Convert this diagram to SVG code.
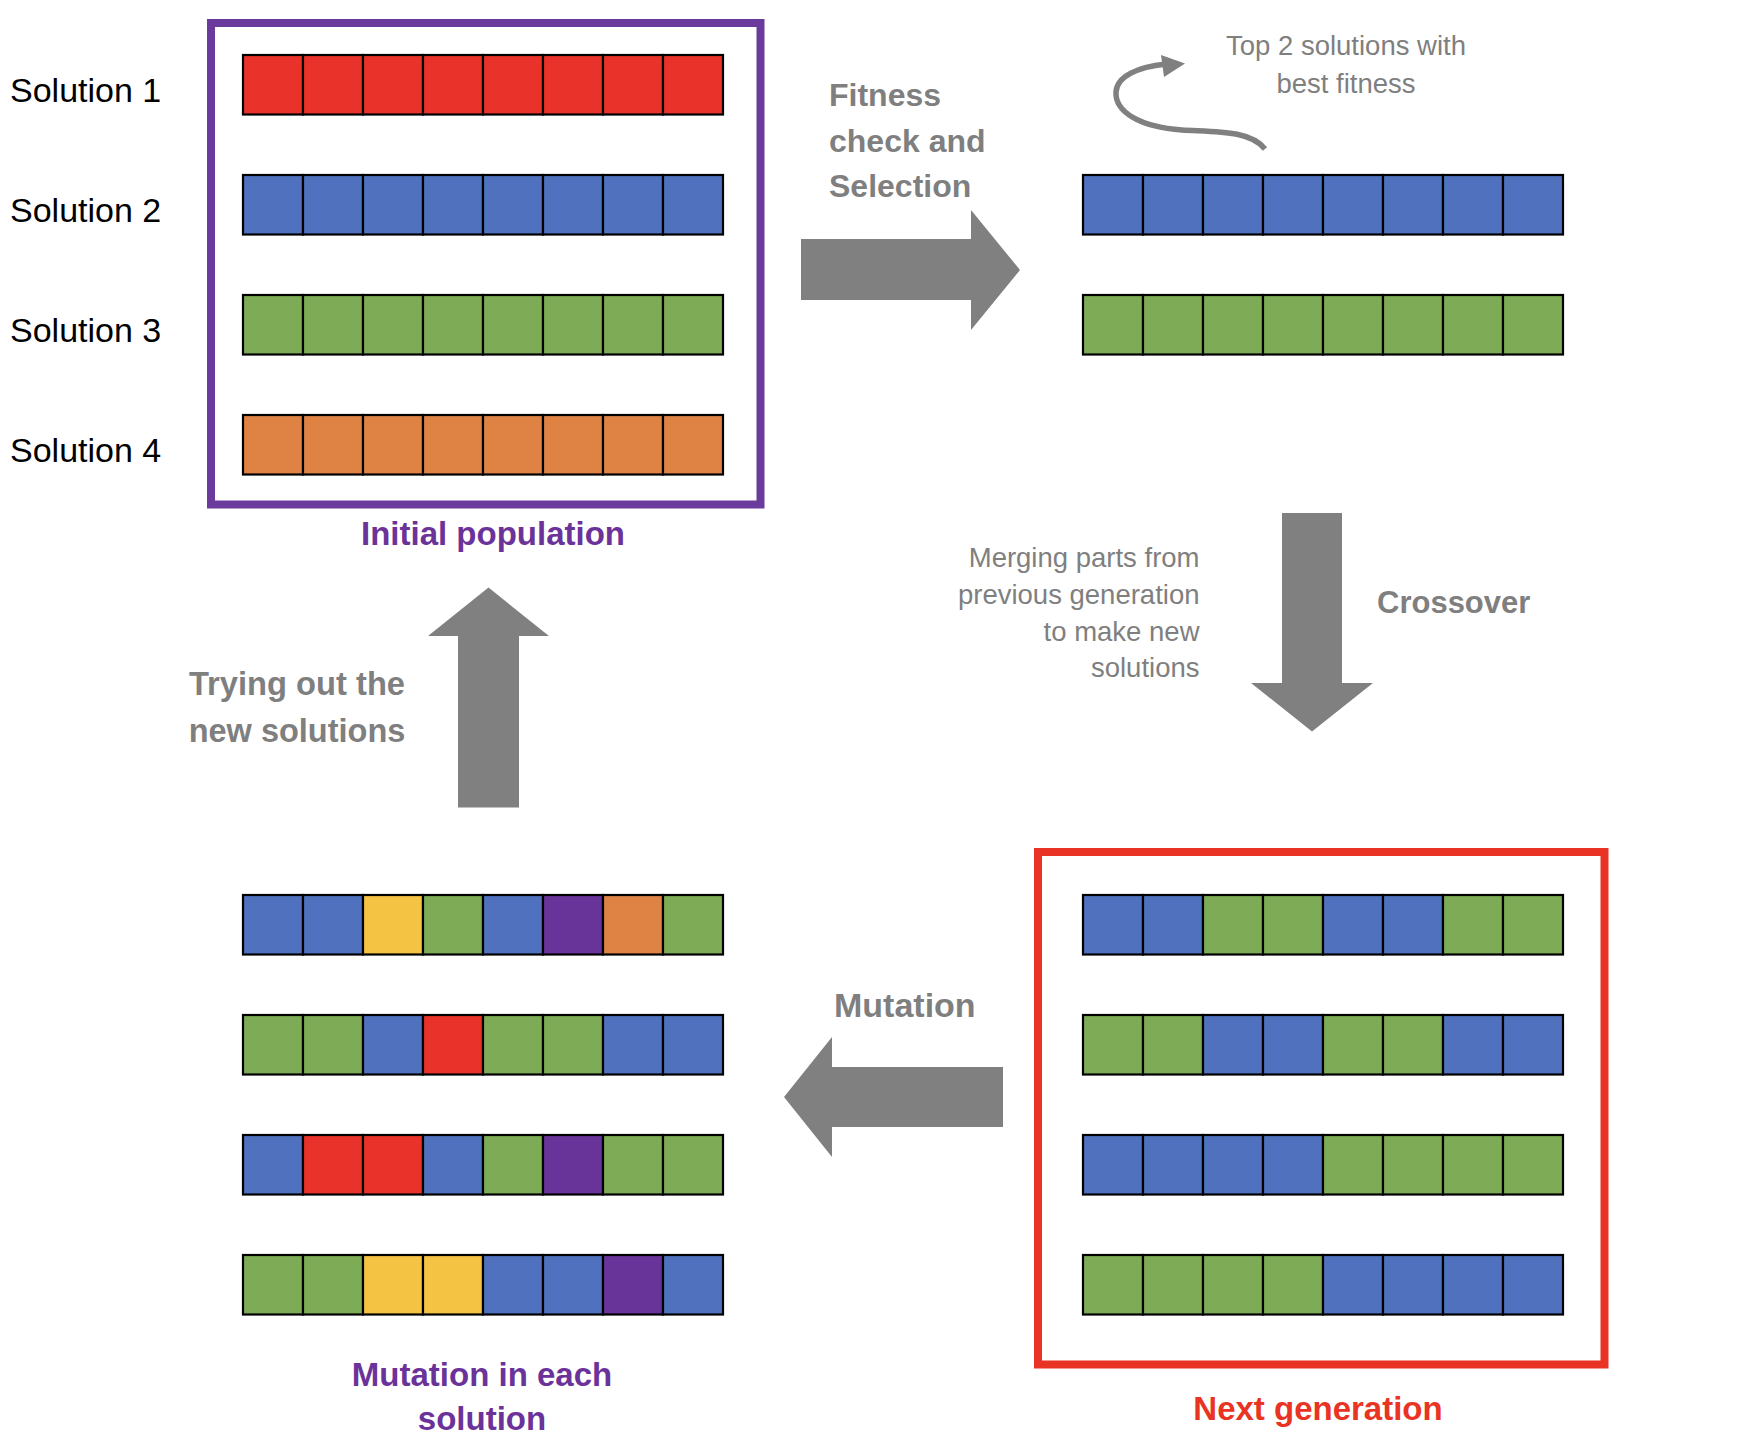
<svg xmlns="http://www.w3.org/2000/svg" width="1762" height="1456" viewBox="0 0 1762 1456">
<style>
  .c{stroke:#000;stroke-width:2.2}
  .r{fill:#E9332A}.b{fill:#4F71BE}.g{fill:#7EAB55}.o{fill:#DF8345}.y{fill:#F4C343}.p{fill:#693499}
  .lbl{font-family:"Liberation Sans",Arial,sans-serif;font-size:34px;fill:#000}
  .gb{font-family:"Liberation Sans",Arial,sans-serif;font-weight:bold;fill:#7F7F7F}
  .gr{font-family:"Liberation Sans",Arial,sans-serif;font-size:27.5px;fill:#7F7F7F}
  .pb{font-family:"Liberation Sans",Arial,sans-serif;font-weight:bold;font-size:33px;fill:#6B3399}
  .rb{font-family:"Liberation Sans",Arial,sans-serif;font-weight:bold;font-size:33px;fill:#E93323}
  .arrow{fill:#808080}
</style>
<rect width="1762" height="1456" fill="#fff"/>

<g id="initial-population">
  <rect x="211" y="23" width="549.5" height="481.5" fill="none" stroke="#6A3A9C" stroke-width="8"/>
  <g id="sol1" class="c">
    <rect class="r" x="243" y="55" width="60" height="59.5"/><rect class="r" x="303" y="55" width="60" height="59.5"/><rect class="r" x="363" y="55" width="60" height="59.5"/><rect class="r" x="423" y="55" width="60" height="59.5"/><rect class="r" x="483" y="55" width="60" height="59.5"/><rect class="r" x="543" y="55" width="60" height="59.5"/><rect class="r" x="603" y="55" width="60" height="59.5"/><rect class="r" x="663" y="55" width="60" height="59.5"/>
  </g>
  <g id="sol2" class="c">
    <rect class="b" x="243" y="175" width="60" height="59.5"/><rect class="b" x="303" y="175" width="60" height="59.5"/><rect class="b" x="363" y="175" width="60" height="59.5"/><rect class="b" x="423" y="175" width="60" height="59.5"/><rect class="b" x="483" y="175" width="60" height="59.5"/><rect class="b" x="543" y="175" width="60" height="59.5"/><rect class="b" x="603" y="175" width="60" height="59.5"/><rect class="b" x="663" y="175" width="60" height="59.5"/>
  </g>
  <g id="sol3" class="c">
    <rect class="g" x="243" y="295" width="60" height="59.5"/><rect class="g" x="303" y="295" width="60" height="59.5"/><rect class="g" x="363" y="295" width="60" height="59.5"/><rect class="g" x="423" y="295" width="60" height="59.5"/><rect class="g" x="483" y="295" width="60" height="59.5"/><rect class="g" x="543" y="295" width="60" height="59.5"/><rect class="g" x="603" y="295" width="60" height="59.5"/><rect class="g" x="663" y="295" width="60" height="59.5"/>
  </g>
  <g id="sol4" class="c">
    <rect class="o" x="243" y="415" width="60" height="59.5"/><rect class="o" x="303" y="415" width="60" height="59.5"/><rect class="o" x="363" y="415" width="60" height="59.5"/><rect class="o" x="423" y="415" width="60" height="59.5"/><rect class="o" x="483" y="415" width="60" height="59.5"/><rect class="o" x="543" y="415" width="60" height="59.5"/><rect class="o" x="603" y="415" width="60" height="59.5"/><rect class="o" x="663" y="415" width="60" height="59.5"/>
  </g>
  <text class="lbl" x="10" y="101.5">Solution 1</text>
  <text class="lbl" x="10" y="221.5">Solution 2</text>
  <text class="lbl" x="10" y="341.5">Solution 3</text>
  <text class="lbl" x="10" y="461.5">Solution 4</text>
  <text class="pb" x="493" y="545" text-anchor="middle">Initial population</text>
</g>

<g id="selected">
  <g class="c">
    <rect class="b" x="1083" y="175" width="60" height="59.5"/><rect class="b" x="1143" y="175" width="60" height="59.5"/><rect class="b" x="1203" y="175" width="60" height="59.5"/><rect class="b" x="1263" y="175" width="60" height="59.5"/><rect class="b" x="1323" y="175" width="60" height="59.5"/><rect class="b" x="1383" y="175" width="60" height="59.5"/><rect class="b" x="1443" y="175" width="60" height="59.5"/><rect class="b" x="1503" y="175" width="60" height="59.5"/>
  </g>
  <g class="c">
    <rect class="g" x="1083" y="295" width="60" height="59.5"/><rect class="g" x="1143" y="295" width="60" height="59.5"/><rect class="g" x="1203" y="295" width="60" height="59.5"/><rect class="g" x="1263" y="295" width="60" height="59.5"/><rect class="g" x="1323" y="295" width="60" height="59.5"/><rect class="g" x="1383" y="295" width="60" height="59.5"/><rect class="g" x="1443" y="295" width="60" height="59.5"/><rect class="g" x="1503" y="295" width="60" height="59.5"/>
  </g>
  <text class="gr" x="1346" y="55" text-anchor="middle">Top 2 solutions with</text>
  <text class="gr" x="1346" y="93" text-anchor="middle">best fitness</text>
</g>

<g id="next-generation">
  <rect x="1038" y="852" width="566.5" height="512.5" fill="none" stroke="#E93324" stroke-width="8"/>
  <g class="c">
    <rect class="b" x="1083" y="895" width="60" height="59.5"/><rect class="b" x="1143" y="895" width="60" height="59.5"/><rect class="g" x="1203" y="895" width="60" height="59.5"/><rect class="g" x="1263" y="895" width="60" height="59.5"/><rect class="b" x="1323" y="895" width="60" height="59.5"/><rect class="b" x="1383" y="895" width="60" height="59.5"/><rect class="g" x="1443" y="895" width="60" height="59.5"/><rect class="g" x="1503" y="895" width="60" height="59.5"/>
  </g>
  <g class="c">
    <rect class="g" x="1083" y="1015" width="60" height="59.5"/><rect class="g" x="1143" y="1015" width="60" height="59.5"/><rect class="b" x="1203" y="1015" width="60" height="59.5"/><rect class="b" x="1263" y="1015" width="60" height="59.5"/><rect class="g" x="1323" y="1015" width="60" height="59.5"/><rect class="g" x="1383" y="1015" width="60" height="59.5"/><rect class="b" x="1443" y="1015" width="60" height="59.5"/><rect class="b" x="1503" y="1015" width="60" height="59.5"/>
  </g>
  <g class="c">
    <rect class="b" x="1083" y="1135" width="60" height="59.5"/><rect class="b" x="1143" y="1135" width="60" height="59.5"/><rect class="b" x="1203" y="1135" width="60" height="59.5"/><rect class="b" x="1263" y="1135" width="60" height="59.5"/><rect class="g" x="1323" y="1135" width="60" height="59.5"/><rect class="g" x="1383" y="1135" width="60" height="59.5"/><rect class="g" x="1443" y="1135" width="60" height="59.5"/><rect class="g" x="1503" y="1135" width="60" height="59.5"/>
  </g>
  <g class="c">
    <rect class="g" x="1083" y="1255" width="60" height="59.5"/><rect class="g" x="1143" y="1255" width="60" height="59.5"/><rect class="g" x="1203" y="1255" width="60" height="59.5"/><rect class="g" x="1263" y="1255" width="60" height="59.5"/><rect class="b" x="1323" y="1255" width="60" height="59.5"/><rect class="b" x="1383" y="1255" width="60" height="59.5"/><rect class="b" x="1443" y="1255" width="60" height="59.5"/><rect class="b" x="1503" y="1255" width="60" height="59.5"/>
  </g>
  <text class="rb" x="1318" y="1420" text-anchor="middle">Next generation</text>
</g>

<g id="mutated">
  <g class="c">
    <rect class="b" x="243" y="895" width="60" height="59.5"/><rect class="b" x="303" y="895" width="60" height="59.5"/><rect class="y" x="363" y="895" width="60" height="59.5"/><rect class="g" x="423" y="895" width="60" height="59.5"/><rect class="b" x="483" y="895" width="60" height="59.5"/><rect class="p" x="543" y="895" width="60" height="59.5"/><rect class="o" x="603" y="895" width="60" height="59.5"/><rect class="g" x="663" y="895" width="60" height="59.5"/>
  </g>
  <g class="c">
    <rect class="g" x="243" y="1015" width="60" height="59.5"/><rect class="g" x="303" y="1015" width="60" height="59.5"/><rect class="b" x="363" y="1015" width="60" height="59.5"/><rect class="r" x="423" y="1015" width="60" height="59.5"/><rect class="g" x="483" y="1015" width="60" height="59.5"/><rect class="g" x="543" y="1015" width="60" height="59.5"/><rect class="b" x="603" y="1015" width="60" height="59.5"/><rect class="b" x="663" y="1015" width="60" height="59.5"/>
  </g>
  <g class="c">
    <rect class="b" x="243" y="1135" width="60" height="59.5"/><rect class="r" x="303" y="1135" width="60" height="59.5"/><rect class="r" x="363" y="1135" width="60" height="59.5"/><rect class="b" x="423" y="1135" width="60" height="59.5"/><rect class="g" x="483" y="1135" width="60" height="59.5"/><rect class="p" x="543" y="1135" width="60" height="59.5"/><rect class="g" x="603" y="1135" width="60" height="59.5"/><rect class="g" x="663" y="1135" width="60" height="59.5"/>
  </g>
  <g class="c">
    <rect class="g" x="243" y="1255" width="60" height="59.5"/><rect class="g" x="303" y="1255" width="60" height="59.5"/><rect class="y" x="363" y="1255" width="60" height="59.5"/><rect class="y" x="423" y="1255" width="60" height="59.5"/><rect class="b" x="483" y="1255" width="60" height="59.5"/><rect class="b" x="543" y="1255" width="60" height="59.5"/><rect class="p" x="603" y="1255" width="60" height="59.5"/><rect class="b" x="663" y="1255" width="60" height="59.5"/>
  </g>
  <text class="pb" x="482" y="1385.5" text-anchor="middle">Mutation in each</text>
  <text class="pb" x="482" y="1429.5" text-anchor="middle">solution</text>
</g>

<g id="connectors">
  <polygon class="arrow" points="801,239 971,239 971,210 1020,270 971,330 971,300 801,300"/>
  <polygon class="arrow" points="1282,513 1342,513 1342,683 1373,683 1312,731.5 1251,683 1282,683"/>
  <polygon class="arrow" points="1003,1067 832,1067 832,1037 784,1097 832,1157 832,1127 1003,1127"/>
  <polygon class="arrow" points="458,807.5 458,636 428,636 488.5,587.5 549,636 519,636 519,807.5"/>
  <path d="M1265,149 C1250,130 1215,132 1182,130 C1140,127 1115,112 1116,92 C1117,76 1138,67 1166,64" fill="none" stroke="#808080" stroke-width="5.5"/>
  <polygon points="1161,55 1185,63.5 1164,77" fill="#808080"/>
  <text class="gb" font-size="32" x="829" y="106">Fitness</text>
  <text class="gb" font-size="32" x="829" y="151.5">check and</text>
  <text class="gb" font-size="32" x="829" y="197">Selection</text>
  <text class="gr" x="1199.5" y="567" text-anchor="end">Merging parts from</text>
  <text class="gr" x="1199.5" y="604" text-anchor="end">previous generation</text>
  <text class="gr" x="1199.5" y="640.5" text-anchor="end">to make new</text>
  <text class="gr" x="1199.5" y="676.5" text-anchor="end">solutions</text>
  <text class="gb" font-size="31" x="1377" y="612.5">Crossover</text>
  <text class="gb" font-size="34" x="834" y="1017">Mutation</text>
  <text class="gb" font-size="32.7" x="297" y="695" text-anchor="middle">Trying out the</text>
  <text class="gb" font-size="32.5" x="297" y="741.5" text-anchor="middle">new solutions</text>
</g>
</svg>
